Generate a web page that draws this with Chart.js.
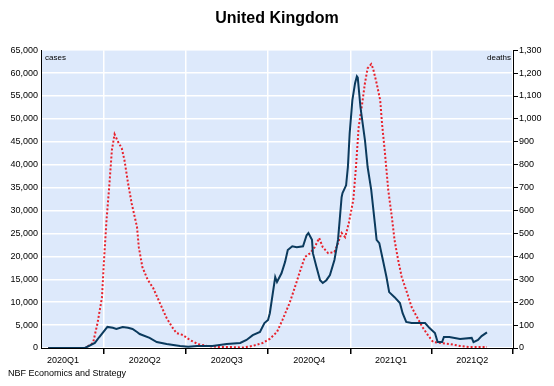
<!DOCTYPE html>
<html>
<head>
<meta charset="utf-8">
<title>United Kingdom</title>
<script src="https://cdn.jsdelivr.net/npm/chart.js@4.4.1/dist/chart.umd.min.js"></script>
<style>
  html, body { margin: 0; padding: 0; background: #fff; }
  #wrap { position: relative; width: 554px; height: 386px; }
  #note { position: absolute; left: 8px; top: 368px; font: 9px "Liberation Sans", Arial, sans-serif; color: #000; }
</style>
</head>
<body>
<div id="wrap">
  <canvas id="ukChart" width="554" height="386"></canvas>
  <div id="note">NBF Economics and Strategy</div>
</div>
<script>
// days counted from 2020-01-01 (7-day averages)
const caseDays = [29, 70, 81, 86, 95, 101, 105, 112, 118, 123, 128, 131, 142, 150, 161, 176, 185, 195, 212, 228,
  243, 250, 257, 265, 270, 274, 276, 282, 284, 289, 293, 296, 301, 306, 313, 317, 319, 323, 324, 328,
  332, 335, 339, 343, 348, 352, 356, 357, 361, 363, 365, 368, 371, 373, 374, 377, 379, 382, 385, 389,
  393, 395, 398, 402, 406, 409, 415, 421, 424, 428, 434, 443, 449, 454, 460, 463, 468, 470, 476, 488,
  501, 503, 508, 512, 518];
const caseValues = [0, 0, 1100, 2400, 4600, 4400, 4150, 4600, 4400, 4150, 3500, 3050, 2200, 1300, 870, 440, 250, 440, 440, 870,
  1100, 1750, 2800, 3500, 5450, 6100, 7600, 15500, 14400, 16300, 18800, 21400, 22200, 22000, 22200, 24600, 25100, 23600, 20700, 17700,
  14800, 14200, 14800, 15900, 19200, 23600, 32900, 33800, 35500, 39500, 46900, 54100, 57800, 59300, 59000, 52600, 49700, 45400, 39500, 34500,
  27300, 23600, 22900, 19200, 15500, 12200, 11100, 9800, 7600, 5700, 5450, 5450, 5450, 4350, 3270, 1300, 1300, 2400, 2400, 1960,
  2200, 1300, 1750, 2600, 3400];

const deathDays = [29, 70, 79, 84, 89, 91, 94, 97, 100, 103, 107, 111, 114, 118, 122, 128, 130, 134, 140, 146,
  151, 156, 161, 167, 172, 179, 187, 196, 206, 220, 235, 246, 257, 268, 276, 284, 290, 298, 304, 309,
  315, 321, 326, 331, 335, 341, 348, 352, 356, 360, 364, 369, 372, 375, 379, 382, 385, 389, 391, 395,
  399, 401, 404, 408, 412, 415, 419, 423, 429, 434, 440, 446, 452, 458, 466, 477, 488, 499, 518];
const deathValues = [0, 0, 22, 109, 222, 370, 558, 702, 864, 933, 899, 872, 820, 720, 632, 528, 440, 353, 297, 262,
  218, 174, 131, 92, 65, 57, 35, 17, 9, 4, 4, 2, 9, 22, 40, 70, 122, 196, 266, 327,
  397, 414, 440, 480, 440, 414, 419, 458, 502, 484, 545, 646, 790, 964, 1069, 1156, 1221, 1239, 1221, 1156,
  1082, 981, 864, 689, 571, 471, 384, 310, 240, 179, 135, 92, 57, 26, 22, 17, 9, 4, 4];

const quarterStarts = [0, 91, 182, 274, 366, 456, 547];
const quarterLabels = ['2020Q1', '2020Q2', '2020Q3', '2020Q4', '2021Q1', '2021Q2'];

const FONT = '"Liberation Sans", Arial, sans-serif';

// tick list: quarter boundaries (grid + tick mark) and mid-quarter positions (labels)
const labelAt = {};
quarterLabels.forEach((q, i) => {
  labelAt[(quarterStarts[i] + quarterStarts[i + 1]) / 2] = q;
});
const boundaryTicks = quarterStarts.slice(1);
const xTicks = boundaryTicks.concat(Object.keys(labelAt).map(Number)).sort((a, b) => a - b);

const isBoundary = v => boundaryTicks.indexOf(v) !== -1;

const panelPlugin = {
  id: 'panel',
  beforeDraw(chart) {
    const a = chart.chartArea;
    const ctx = chart.ctx;
    ctx.save();
    ctx.fillStyle = '#dde9fb';
    ctx.fillRect(a.left, a.top, a.right - a.left, a.bottom - a.top);
    ctx.restore();
  },
  afterDraw(chart) {
    const a = chart.chartArea;
    const ctx = chart.ctx;
    ctx.save();
    ctx.fillStyle = '#000';
    ctx.font = '8px ' + FONT;
    ctx.textBaseline = 'top';
    ctx.textAlign = 'left';
    ctx.fillText('cases', a.left + 4, a.top + 4);
    ctx.textAlign = 'right';
    ctx.fillText('deaths', a.right - 2, a.top + 4);
    ctx.restore();
  }
};

const ctx = document.getElementById('ukChart').getContext('2d');
new Chart(ctx, {
  type: 'line',
  data: {
    datasets: [{
      label: 'cases',
      data: caseDays.map((d, i) => ({ x: d, y: caseValues[i] })),
      yAxisID: 'y',
      borderColor: '#0b3a5d',
      borderWidth: 2,
      pointRadius: 0,
      tension: 0
    }, {
      label: 'deaths',
      data: deathDays.map((d, i) => ({ x: d, y: deathValues[i] })),
      yAxisID: 'y1',
      borderColor: '#e8212b',
      borderWidth: 2,
      borderDash: [2, 2],
      pointRadius: 0,
      tension: 0
    }]
  },
  options: {
    responsive: false,
    animation: false,
    layout: { padding: { left: 0, right: 0, top: 0, bottom: 18 } },
    plugins: {
      legend: { display: false },
      tooltip: { enabled: false },
      title: {
        display: true,
        text: 'United Kingdom',
        color: '#000',
        font: { family: FONT, size: 16, weight: 'bold' },
        padding: { top: 9, bottom: 22 }
      }
    },
    scales: {
      x: {
        type: 'linear',
        min: 21,
        max: 547,
        afterBuildTicks: scale => { scale.ticks = xTicks.map(v => ({ value: v })); },
        afterFit: scale => { scale.height = 20; },
        ticks: {
          autoSkip: false,
          maxRotation: 0,
          padding: 1,
          color: '#000',
          font: { family: FONT, size: 9 },
          callback: v => labelAt[v] || ''
        },
        grid: {
          color: c => (c.tick && isBoundary(c.tick.value)) ? '#ffffff' : 'rgba(0,0,0,0)',
          tickColor: c => (c.tick && isBoundary(c.tick.value)) ? '#000' : 'rgba(0,0,0,0)',
          lineWidth: 1.5,
          tickLength: 6
        },
        border: { color: '#000', width: 1 }
      },
      y: {
        position: 'left',
        min: 0,
        max: 65000,
        afterFit: scale => { scale.width = 41; },
        ticks: {
          stepSize: 5000,
          padding: 3,
          color: '#000',
          font: { family: FONT, size: 9 },
          callback: v => v.toLocaleString('en-US')
        },
        grid: { color: '#ffffff', lineWidth: 1.5, drawTicks: false },
        border: { color: '#000', width: 1 }
      },
      y1: {
        position: 'right',
        min: 0,
        max: 1300,
        afterFit: scale => { scale.width = 41; },
        ticks: {
          stepSize: 100,
          padding: 1,
          color: '#000',
          font: { family: FONT, size: 9 },
          callback: v => v.toLocaleString('en-US')
        },
        grid: { drawOnChartArea: false, color: '#000', tickLength: 5 },
        border: { color: '#000', width: 1 }
      }
    }
  },
  plugins: [panelPlugin]
});
</script>
</body>
</html>
